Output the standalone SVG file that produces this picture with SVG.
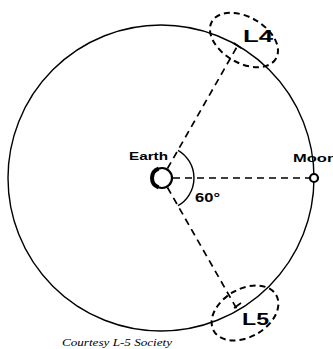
<svg xmlns="http://www.w3.org/2000/svg" width="333" height="349" viewBox="0 0 333 349">
<style>
.orbit{fill:none;stroke:#000;stroke-width:1.4}
.dash{fill:none;stroke:#000;stroke-width:1.7;stroke-dasharray:7,5}
.zone{fill:none;stroke:#000;stroke-width:2;stroke-dasharray:6,4}
.lbl{font-family:"Liberation Sans",Arial,sans-serif;font-weight:bold;fill:#000}
.cap{font-family:"Liberation Serif","Times New Roman",serif;font-style:italic;font-size:11px;fill:#000}
</style>
<rect width="333" height="349" fill="#fff"/>
<circle id="orbit" class="orbit" cx="161" cy="178" r="153"/>
<g id="connectors">
<line class="dash" x1="173" y1="178" x2="310" y2="178"/>
<line class="dash" x1="167.5" y1="168.5" x2="238" y2="45"/>
<line class="dash" x1="167.5" y1="187.5" x2="238" y2="311"/>
<path class="orbit" d="M178,150.3 A32,32 0 0 1 178,205.7"/>
</g>
<g id="earth">
<circle cx="162" cy="178" r="10" fill="#fff" stroke="#000" stroke-width="2.2"/>
<path d="M158.6,187.4 A10,10 0 0 1 158.6,168.6" fill="none" stroke="#000" stroke-width="4"/>
<text class="lbl" x="129" y="160" font-size="11" textLength="39" lengthAdjust="spacingAndGlyphs">Earth</text>
</g>
<g id="moon">
<circle cx="314" cy="178" r="4" fill="#fff" stroke="#000" stroke-width="2.2"/>
<text class="lbl" x="293" y="162" font-size="11" textLength="44" lengthAdjust="spacingAndGlyphs">Moon</text>
</g>
<g id="angle">
<text class="lbl" x="195" y="202" font-size="13" textLength="25" lengthAdjust="spacingAndGlyphs">60°</text>
</g>
<g id="L4">
<ellipse class="zone" cx="244" cy="40" rx="37" ry="23" transform="rotate(30 244 40)"/>
<line x1="234" y1="43" x2="241" y2="48" stroke="#000" stroke-width="1.6"/>
<text class="lbl" x="243" y="42" font-size="16" textLength="30" lengthAdjust="spacingAndGlyphs">L4</text>
</g>
<g id="L5">
<ellipse class="zone" cx="245" cy="313" rx="36" ry="24" transform="rotate(-30 245 313)"/>
<line x1="234" y1="308" x2="241" y2="303" stroke="#000" stroke-width="1.6"/>
<text class="lbl" x="242" y="325" font-size="16" textLength="27" lengthAdjust="spacingAndGlyphs">L5</text>
</g>
<text class="cap" x="62" y="346" textLength="110" lengthAdjust="spacingAndGlyphs">Courtesy L-5 Society</text>
</svg>
